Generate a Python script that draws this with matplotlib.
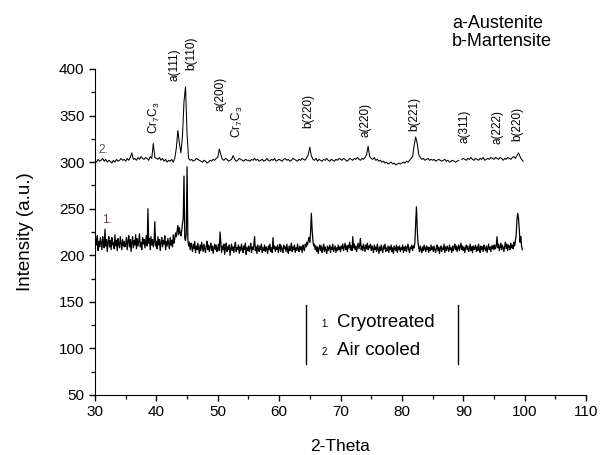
import numpy as np
import matplotlib
matplotlib.use("Agg")
import matplotlib.pyplot as plt
from matplotlib.ticker import MultipleLocator

plt.rcParams['font.family'] = ['Liberation Sans', 'DejaVu Sans']
plt.rcParams['mathtext.fontset'] = 'custom'
plt.rcParams['mathtext.rm'] = 'Liberation Sans'
plt.rcParams['mathtext.it'] = 'Liberation Sans'

# Cryotreated pattern: 2-theta from 30.000 step 0.125
cryo_start = 30.0
cryo_step = 0.125
cryotreated = [
    207, 218, 211, 221, 205, 215, 209, 219, 212, 206, 220, 213, 208, 228, 210, 217, 204, 214, 220, 209,
    216, 206, 219, 211, 214, 207, 222, 210, 216, 205, 218, 212, 208, 220, 213, 206, 217, 210, 215, 209,
    212, 219, 206, 215, 221, 209, 217, 204, 214, 220, 208, 216, 211, 222, 207, 218, 210, 215, 223, 209,
    214, 206, 219, 212, 217, 208, 215, 221, 210, 250, 213, 218, 206, 220, 211, 217, 209, 214, 236, 210,
    215, 207, 220, 211, 217, 205, 214, 219, 209, 216, 212, 221, 206, 215, 210, 218, 213, 207, 219, 211,
    216, 209, 222, 213, 218, 224, 220, 226, 232, 222, 230, 224, 221, 226, 234, 240, 285, 218, 216, 224,
    295, 218, 210, 214, 206, 213, 209, 204, 212, 207, 215, 203, 210, 206, 213, 208, 202, 211, 205, 214,
    209, 204, 212, 207, 203, 210, 215, 206, 211, 204, 209, 213, 205, 210, 202, 208, 212, 206, 211, 204,
    207, 212, 205, 225, 214, 203, 210, 206, 212, 201, 208, 213, 204, 209, 206, 211, 200, 207, 212, 205,
    209, 203, 210, 214, 204, 208, 206, 211, 202, 209, 205, 212, 207, 203, 210, 206, 213, 201, 208, 205,
    210, 204, 208, 213, 203, 209, 206, 211, 220, 205, 209, 202, 211, 207, 204, 210, 206, 212, 203, 208,
    205, 211, 204, 209, 207, 202, 210, 206, 212, 204, 208, 203, 219, 207, 210, 204, 209, 206, 211, 203,
    208, 212, 204, 210, 206, 203, 211, 207, 209, 204, 212, 206, 202, 210, 205, 208, 213, 204, 209, 206,
    211, 203, 208, 205, 212, 207, 204, 210, 206, 209, 203, 211, 207, 205, 212, 209, 214, 211, 216, 219,
    214, 224, 245, 228, 216, 210, 212, 206, 210, 204, 209, 202, 208, 211, 205, 210, 203, 207, 212, 204,
    209, 206, 202, 210, 205, 208, 211, 203, 209, 206, 212, 204, 207, 210, 203, 208, 205, 211, 206, 209,
    204, 210, 207, 212, 205, 209, 213, 206, 210, 204, 211, 208, 214, 206, 210, 205, 220, 208, 212, 206,
    210, 204, 209, 213, 207, 211, 218, 206, 210, 205, 212, 208, 204, 211, 207, 213, 206, 210, 208, 212,
    205, 210, 207, 203, 211, 206, 209, 204, 212, 207, 202, 209, 205, 211, 206, 203, 210, 207, 212, 204,
    208, 205, 210, 203, 209, 206, 211, 204, 208, 202, 210, 207, 205, 211, 203, 209, 206, 210, 204, 208,
    206, 211, 203, 209, 205, 210, 204, 208, 212, 206, 203, 209, 207, 211, 205, 210, 208, 214, 235, 252,
    228, 214, 208, 204, 210, 206, 203, 209, 205, 211, 207, 204, 210, 206, 209, 203, 208, 205, 211, 206,
    209, 204, 210, 206, 203, 208, 211, 205, 209, 202, 207, 210, 204, 208, 206, 212, 203, 209, 205, 210,
    207, 204, 211, 206, 208, 203, 210, 205, 209, 212, 206, 210, 204, 208, 211, 205, 209, 213, 206, 210,
    205, 209, 203, 208, 211, 206, 210, 204, 207, 212, 205, 209, 203, 210, 206, 208, 211, 204, 209, 205,
    212, 207, 203, 210, 206, 209, 204, 211, 207, 205, 210, 203, 208, 212, 206, 209, 204, 210, 207, 211,
    206, 211, 207, 210, 220, 208, 212, 205, 209, 213, 206, 211, 208, 204, 210, 214, 207, 212, 205, 211,
    209, 206, 213, 208, 211, 207, 214, 210, 216, 222, 238, 245, 240, 228, 214, 220, 210, 206,
]

# Air cooled pattern: 2-theta from 30.00 step 0.25
air_start = 30.0
air_step = 0.25
air_cooled = [
    302, 300, 303, 301, 302, 304, 301, 303, 300, 302, 301, 299, 302, 300, 303, 301, 302, 304, 302, 303,
    301, 304, 302, 305, 310, 303, 304, 302, 305, 303, 306, 304, 303, 305, 304, 302, 306, 304, 320, 305,
    304, 303, 305, 302, 304, 301, 303, 300, 302, 301, 303, 300, 304, 315, 334, 320, 310, 328, 365, 381,
    330, 304, 302, 303, 301, 302, 304, 303, 302, 301, 300, 302, 301, 299, 300, 302, 301, 303, 302, 304,
    305, 314, 308, 303, 302, 304, 303, 301, 302, 303, 307, 303, 301, 302, 304, 303, 302, 301, 303, 302,
    302, 301, 303, 302, 304, 302, 303, 301, 302, 303, 301, 302, 304, 302, 301, 303, 302, 304, 301, 302,
    303, 302, 301, 303, 304, 302, 303, 301, 302, 304, 303, 302, 301, 303, 302, 304, 303, 302, 305, 308,
    316, 307, 303, 302, 304, 301, 303, 302, 301, 303, 302, 304, 302, 301, 303, 302, 301, 303, 302, 304,
    303, 302, 304, 303, 301, 302, 304, 303, 302, 304, 303, 305, 303, 302, 304, 303, 305, 308, 317, 306,
    304, 303, 305, 302, 303, 301, 302, 300, 301, 299, 300, 298, 299, 300, 298, 299, 297, 298, 299, 298,
    299, 300, 299, 301, 300, 302, 304, 306, 318, 327, 320, 308, 305, 303, 304, 302, 303, 304, 302, 303,
    302, 303, 301, 302, 303, 302, 301, 302, 303, 301, 302, 300, 301, 302, 301, 300, 301, 302, np.nan, 303,
    304, 303, 302, 304, 303, 305, 303, 302, 304, 303, 302, 304, 303, 305, 302, 303, 304, 303, 305, 304,
    303, 305, 304, 303, 305, 304, 302, 304, 303, 305, 304, 303, 305, 306, 304, 307, 310, 306, 303, 301,
]

peak_labels = ['Cr$_7$C$_3$', 'a(111)', 'b(110)', 'a(200)', 'Cr$_7$C$_3$', 'b(220)',
               'a(220)', 'b(221)', 'a(311)', 'a(222)', 'b(220)']
peak_label_x = [39.7, 42.9, 45.7, 50.4, 53.2, 64.8, 74.0, 82.1, 90.2, 95.5, 98.8]
peak_label_y = [330, 387, 399, 355, 326, 337, 327, 333, 321, 320, 323]

x_ticks = [30, 40, 50, 60, 70, 80, 90, 100, 110]
y_ticks = [50, 100, 150, 200, 250, 300, 350, 400]

theta_cryo = cryo_start + cryo_step * np.arange(len(cryotreated))
theta_air = air_start + air_step * np.arange(len(air_cooled))

fig = plt.figure(figsize=(6.0, 4.55), dpi=100)
ax = fig.add_axes([95/600, 1 - 395/455, (586 - 95)/600, (395 - 69)/455])

ax.plot(theta_cryo, cryotreated, color='black', lw=0.9)
ax.plot(theta_air, np.array(air_cooled, dtype=float), color='black', lw=0.75)

ax.set_xlim(30, 110)
ax.set_ylim(50, 400)
ax.set_xticks(x_ticks)
ax.set_yticks(y_ticks)
ax.xaxis.set_minor_locator(MultipleLocator(5))
ax.yaxis.set_minor_locator(MultipleLocator(25))
for s in ['top', 'right']:
    ax.spines[s].set_visible(False)
ax.tick_params(axis='both', which='major', direction='out', length=4.5, width=1.0,
               labelsize=11, pad=3)
ax.tick_params(axis='both', which='minor', direction='out', length=3, width=0.9)

ax.set_xlabel('2-Theta', fontsize=12.5, labelpad=14)
ax.set_ylabel('Intensity (a.u.)', fontsize=13.5, labelpad=18)

for lab, px, py in zip(peak_labels, peak_label_x, peak_label_y):
    ax.text(px, py, lab, rotation=90, ha='center', va='bottom', fontsize=8.5,
            clip_on=False)

ax.text(31.3, 313, '2.', fontsize=8.5, color='#555555', ha='center', va='center')
ax.text(31.9, 238, '1.', fontsize=8.5, color='#7a3a3a', ha='center', va='center')

# legend box (left and right rules only)
ax.plot([64.4, 64.4], [83.5, 147], color='black', lw=1.0)
ax.plot([89.2, 89.2], [83.5, 147], color='black', lw=1.0)
ax.text(67.6, 123.5, '1.', fontsize=7, ha='center', va='baseline')
ax.text(69.5, 123.5, 'Cryotreated', fontsize=13.5, ha='left', va='baseline')
ax.text(67.6, 93.2, '2.', fontsize=7, ha='center', va='baseline')
ax.text(69.5, 93.2, 'Air cooled', fontsize=13.5, ha='left', va='baseline')

fig.text(452/600, 1 - 28/455, 'a-Austenite', fontsize=13, ha='left', va='baseline')
fig.text(452/600, 1 - 46/455, 'b-Martensite', fontsize=13, ha='left', va='baseline')

fig.savefig('out.png', dpi=100)
